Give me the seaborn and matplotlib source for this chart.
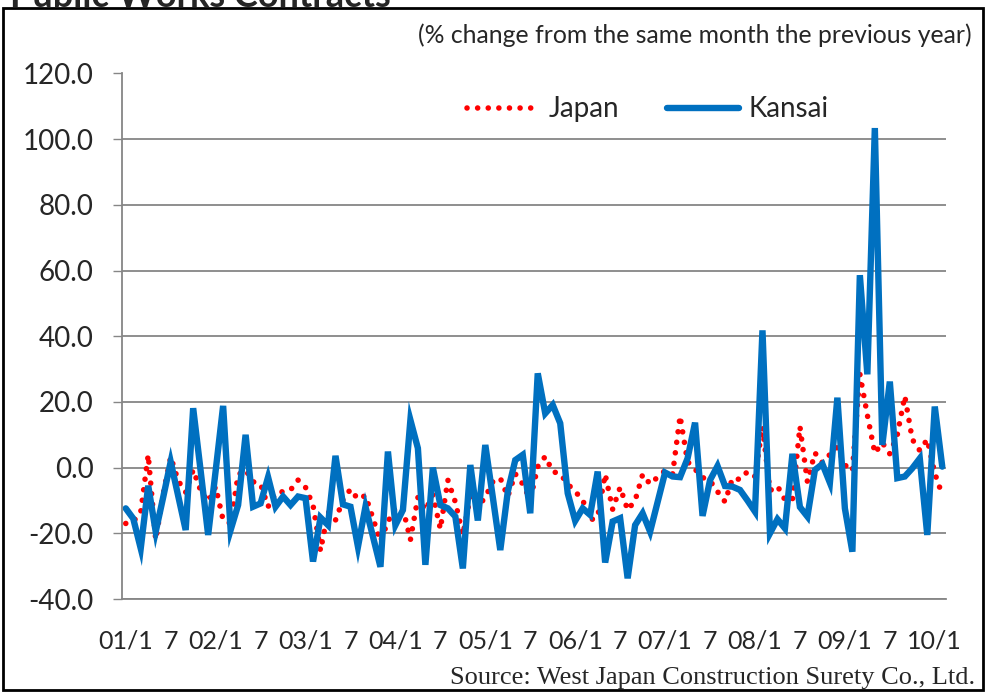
import numpy as np
import pandas as pd
import matplotlib
matplotlib.use('Agg')
import matplotlib.pyplot as plt
import seaborn as sns
from matplotlib.patches import Rectangle

# monthly series, 2001/1 - 2010/2 (% change from same month previous year)
japan = [-17, -16.5, -13.5, 3.9, -22, -8, 3.3, -4, -7.5, -0.7,
         -7, -10.4, -5.8, -16, -17, -2.2, -0.7, -4.3, -5, -11.9,
         -7.8, -7.3, -6.8, -3.8, -6, -11.4, -25.3, -13.4, -16, -9.8,
         -6.6, -9.6, -8.5, -15.4, -22.5, -16.4, -12.4, -12.4, -22, -9.1,
         -13, -8.3, -18.7, -3.8, -10.5, -20.5, -8.8, -12, -9, -4.3,
         -3.2, -8.8, -1.9, -5, -9.8, 0.3, 3.4, -1.2, -1.9, -5,
         -7.3, -9.8, -16, -15, -2, -12.7, -6, -12.9, -10, -2.1,
         -5, -2.9, -0.9, -2, 15.7, 1.8, -0.5, -3, -4, -7.3,
         -10.4, -3.2, -3.6, -1.2, -2.7, 12.5, -7, -5.6, -9.8, -9.8,
         12.5, -4.3, 4.5, 1.5, 4, 6.2, 0.8, -1, 28.5, 16,
         4.4, 7.6, 4.2, 10, 21.8, 8.6, 5.2, 8.6, -1.7, -8.3]

kansai = [-12.4, -15.5, -24.6, -5.5, -19.5, -9, 1.8, -8.6, -19, 18.1,
          -1, -20.5, -1, 18.8, -19, -11.4, 10, -11.9, -10.9, -2.9,
          -11.9, -8.8, -11.4, -8.8, -9.3, -28.6, -15.2, -17.5, 3.6, -11.2,
          -11.9, -24.1, -11.9, -21, -30.2, 4.9, -17.5, -12.9, 14.5, 5.9,
          -29.6, 0, -11.4, -12.4, -14.9, -30.7, 0.8, -16.1, 6.9, -9,
          -25.1, -7.3, 2.3, 3.9, -13.9, 28.7, 16.5, 19.1, 13.5, -7.8,
          -16.2, -12.4, -14.4, -1.2, -28.9, -16.4, -15.4, -33.7, -17.5, -13.9,
          -19.5, -10.5, -1.5, -2.7, -2.9, 2.8, 13.7, -14.7, -3.8, 0.5,
          -5.6, -5.8, -6.8, -10, -13.4, 41.8, -20, -15.7, -18.5, 4.2,
          -12, -14.9, -0.7, 1.1, -4.6, 21.3, -12.4, -25.6, 58.6, 28.4,
          103.4, 6.9, 26.2, -3.2, -2.7, -0.2, 2.8, -20.5, 18.6, 0.3]

tick_labels = ["01/1", "7", "02/1", "7", "03/1", "7", "04/1", "7", "05/1", "7",
               "06/1", "7", "07/1", "7", "08/1", "7", "09/1", "7", "10/1"]
y_ticks = [-40, -20, 0, 20, 40, 60, 80, 100, 120]

sns.set_theme(style='white')
plt.rcParams['font.family'] = ['Lato', 'DejaVu Sans']

df = pd.DataFrame({'pos': np.arange(len(kansai)), 'Japan': japan, 'Kansai': kansai})

fig = plt.figure(figsize=(9.86, 6.98), dpi=100)
ax = fig.add_axes([122 / 986, 1 - 599 / 698, 824 / 986, 525.5 / 698])

grid_col = '#868686'
for v in y_ticks:
    ax.axhline(v, color=grid_col, lw=1.3, zorder=0)

sns.lineplot(data=df, x='pos', y='Japan', ax=ax, color='#FF0000', linewidth=4,
             linestyle=(0, (0.01, 1.9)), dash_capstyle='round', label='Japan',
             errorbar=None, sort=False)
sns.lineplot(data=df, x='pos', y='Kansai', ax=ax, color='#0070C0', linewidth=4.6,
             solid_joinstyle='miter', label='Kansai', errorbar=None, sort=False)

ax.set_xlim(-0.5, len(kansai) - 0.5)
ax.set_ylim(-40, 120)
ax.set_yticks(y_ticks)
ax.set_yticklabels([f"{v:.1f}" for v in y_ticks], fontsize=20)
ax.set_xticks(np.arange(0, len(kansai), 6))
ax.set_xticklabels(tick_labels, fontsize=18)
ax.set_xlabel('')
ax.set_ylabel('')
ax.tick_params(axis='y', length=6.5, width=1, color=grid_col, pad=14, left=True)
ax.tick_params(axis='x', length=0, pad=22)

for s in ['top', 'right']:
    ax.spines[s].set_visible(False)
ax.spines['left'].set_color(grid_col)
ax.spines['left'].set_linewidth(1.3)
ax.spines['bottom'].set_color(grid_col)
ax.spines['bottom'].set_linewidth(1.3)

ax.legend(loc='center', bbox_to_anchor=(0.638, 0.932), ncol=2, frameon=False,
          fontsize=20, handlelength=2.6, columnspacing=1.7, handletextpad=0.35)

fig.text(972 / 986, 1 - 35 / 698, "(% change from the same month the previous year)",
         ha='right', va='center', fontsize=17.8)
fig.text(975 / 986, 1 - 678 / 698, "Source: West Japan Construction Surety Co., Ltd.",
         ha='right', va='center', fontsize=19, family=['Liberation Serif'])
# title cut off by the top edge of the image
fig.text(10 / 986, 1 - 7 / 698, "Public Works Contracts", ha='left', va='baseline',
         fontsize=26, fontweight='bold')

fig.patches.append(Rectangle((3 / 986, 1 - 690 / 698), 980 / 986, 682 / 698,
                             transform=fig.transFigure, fill=False,
                             edgecolor='black', linewidth=2))

fig.savefig('out.png', dpi=100)
